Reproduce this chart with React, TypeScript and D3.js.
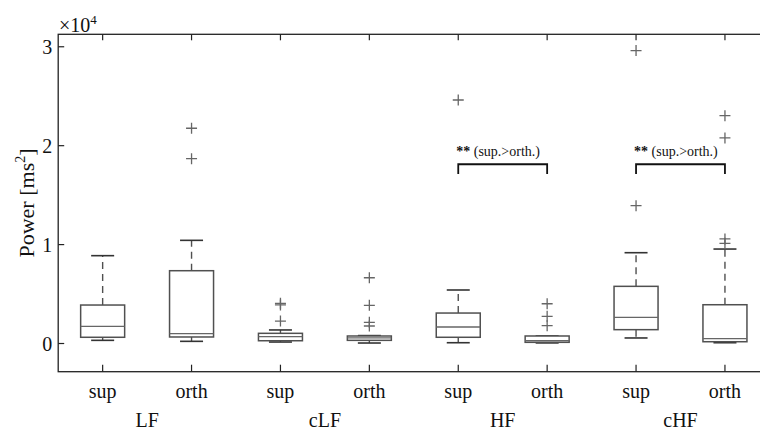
import * as d3 from "d3";

// tick labels along x and the group names underneath
const tickLabels = ["sup", "orth", "sup", "orth", "sup", "orth", "sup", "orth"];
const groups = ["LF", "cLF", "HF", "cHF"];

// box statistics per condition (ms^2)
const whiskerLow = [320, 220, 150, 50, 80, 60, 560, 80];
const q1 = [630, 660, 280, 320, 630, 120, 1400, 180];
const median = [1740, 990, 690, 560, 1670, 280, 2650, 490];
const q3 = [3890, 7360, 1030, 760, 3080, 760, 5780, 3920];
const whiskerHigh = [8880, 10430, 1370, 800, 5410, 760, 9180, 9550];
const outliers = [
  [],
  [21760, 18690],
  [4060, 3900, 2270],
  [6650, 3860, 2140, 1770],
  [24620],
  [4020, 2750, 1800],
  [29610, 13930],
  [23030, 20780, 10570, 10130],
];

const yTicks = [0, 10000, 20000, 30000];

// significance brackets
const brackets = [
  { from: 4, to: 5, level: 18120, drop: 17140, label: "(sup.>orth.)" },
  { from: 6, to: 7, level: 18120, drop: 17140, label: "(sup.>orth.)" },
];

const serif = "'Liberation Serif', 'Times New Roman', serif";

export default function App() {
  const width = 760;
  const height = 434;
  const margin = { left: 58.2, top: 34.3, bottom: 371.7 };

  const xScale = d3
    .scaleLinear()
    .domain([0.5, 8.5])
    .range([margin.left, margin.left + 8 * 88.9]);
  const yScale = d3
    .scaleLinear()
    .domain([-2850, 31260])
    .range([margin.bottom, margin.top]);

  const boxHalf = 22;
  const capHalf = 11.5;
  const plus = 5.5;
  const boxColor = "#505050";
  const axisColor = "#222";
  const right = xScale(8.5);

  return (
    <svg
      width={width}
      height={height}
      style={{ position: "absolute", left: 0, top: 0, background: "#fff" }}
      fontFamily={serif}
    >
      {/* axes frame */}
      <rect
        x={margin.left}
        y={margin.top}
        width={right - margin.left}
        height={margin.bottom - margin.top}
        fill="none"
        stroke={axisColor}
        strokeWidth={1.3}
      />

      {/* y ticks */}
      {yTicks.map((t) => (
        <g key={t}>
          <line
            x1={margin.left}
            x2={margin.left + 6}
            y1={yScale(t)}
            y2={yScale(t)}
            stroke={axisColor}
            strokeWidth={1.2}
          />
          <text
            x={margin.left - 6}
            y={yScale(t)}
            dy="0.35em"
            textAnchor="end"
            fontSize={20}
            fill="#111"
          >
            {t / 10000}
          </text>
        </g>
      ))}
      <text x={59} y={32} fontSize={20} fill="#111">
        ×10
        <tspan fontSize={13} dy={-8}>
          4
        </tspan>
      </text>

      {/* x ticks on top and bottom */}
      {tickLabels.map((lab, i) => (
        <g key={i}>
          <line
            x1={xScale(i + 1)}
            x2={xScale(i + 1)}
            y1={margin.top}
            y2={margin.top + 6}
            stroke={axisColor}
            strokeWidth={1.2}
          />
          <line
            x1={xScale(i + 1)}
            x2={xScale(i + 1)}
            y1={margin.bottom}
            y2={margin.bottom - 7}
            stroke={axisColor}
            strokeWidth={1.2}
          />
          <text
            x={xScale(i + 1)}
            y={398}
            textAnchor="middle"
            fontSize={20}
            fill="#111"
          >
            {lab}
          </text>
        </g>
      ))}
      {groups.map((g, i) => (
        <text
          key={g}
          x={xScale(2 * i + 1.5)}
          y={427}
          textAnchor="middle"
          fontSize={20}
          fill="#111"
        >
          {g}
        </text>
      ))}

      {/* y label */}
      <text
        transform={`translate(34, ${(margin.top + margin.bottom) / 2}) rotate(-90)`}
        textAnchor="middle"
        fontSize={22}
        fill="#111"
      >
        Power [ms
        <tspan fontSize={14} dy={-9}>
          2
        </tspan>
        <tspan dy={9}>]</tspan>
      </text>

      {/* boxes */}
      {tickLabels.map((_, i) => {
        const cx = xScale(i + 1);
        return (
          <g key={i} stroke={boxColor} fill="none">
            <line
              x1={cx}
              x2={cx}
              y1={yScale(q3[i])}
              y2={yScale(whiskerHigh[i])}
              strokeDasharray="7,5"
              strokeWidth={1.4}
            />
            <line
              x1={cx}
              x2={cx}
              y1={yScale(q1[i])}
              y2={yScale(whiskerLow[i])}
              strokeDasharray="7,5"
              strokeWidth={1.4}
            />
            <line
              x1={cx - capHalf}
              x2={cx + capHalf}
              y1={yScale(whiskerHigh[i])}
              y2={yScale(whiskerHigh[i])}
              stroke="#333"
              strokeWidth={1.6}
            />
            <line
              x1={cx - capHalf}
              x2={cx + capHalf}
              y1={yScale(whiskerLow[i])}
              y2={yScale(whiskerLow[i])}
              stroke="#333"
              strokeWidth={1.6}
            />
            <rect
              x={cx - boxHalf}
              y={yScale(q3[i])}
              width={2 * boxHalf}
              height={yScale(q1[i]) - yScale(q3[i])}
              fill="#fff"
              strokeWidth={1.5}
            />
            <line
              x1={cx - boxHalf}
              x2={cx + boxHalf}
              y1={yScale(median[i])}
              y2={yScale(median[i])}
              stroke="#666"
              strokeWidth={1.3}
            />
            {outliers[i].map((v, j) => (
              <path
                key={j}
                d={`M${cx - plus},${yScale(v)}H${cx + plus}M${cx},${yScale(v) - plus}V${yScale(v) + plus}`}
                stroke="#666"
                strokeWidth={1.3}
              />
            ))}
          </g>
        );
      })}

      {/* significance brackets */}
      {brackets.map((b, k) => {
        const x1 = xScale(b.from + 1);
        const x2 = xScale(b.to + 1);
        const yl = yScale(b.level);
        const yd = yScale(b.drop);
        return (
          <g key={k}>
            <path
              d={`M${x1},${yd}V${yl}H${x2}V${yd}`}
              fill="none"
              stroke="#111"
              strokeWidth={1.8}
            />
            <text x={x1 - 2} y={yl - 8} fontSize={14} fill="#111">
              <tspan fontWeight="bold">**</tspan> {b.label}
            </text>
          </g>
        );
      })}
    </svg>
  );
}
